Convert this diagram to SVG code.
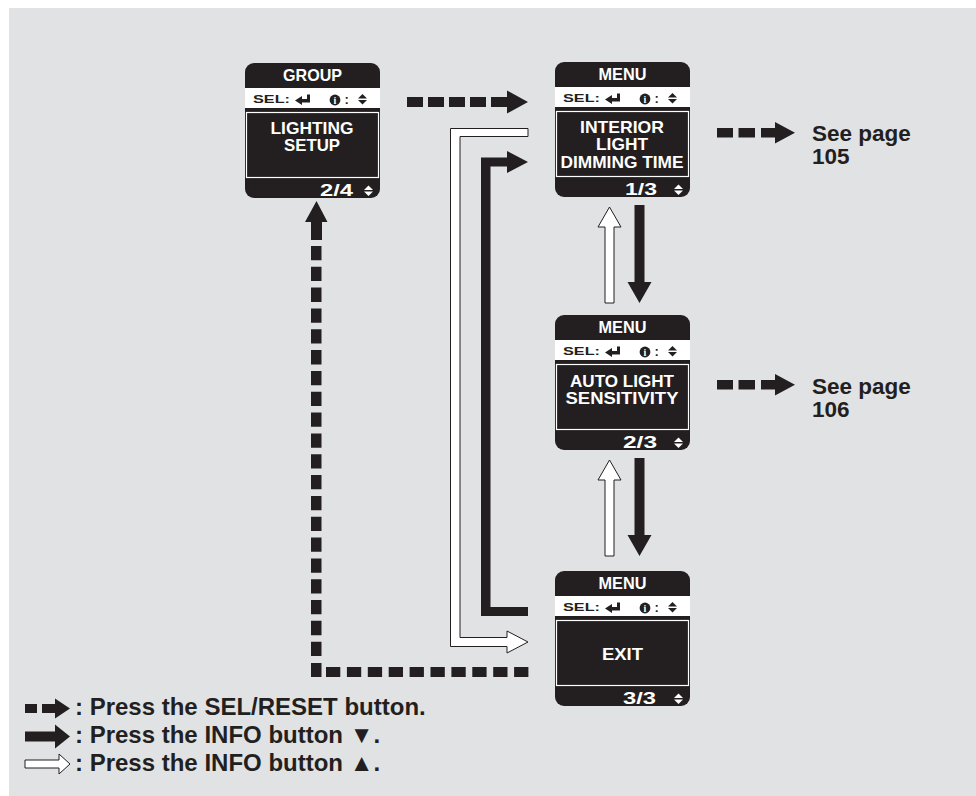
<svg xmlns="http://www.w3.org/2000/svg" xmlns:xlink="http://www.w3.org/1999/xlink" width="976" height="796" viewBox="0 0 976 796">
<style>
.bg{fill:#e1e2e4}
.ink{fill:#231f20}
.wh{fill:#fff}
.hollow{fill:#fff;stroke:#231f20;stroke-width:1}
.lt{font-family:"Liberation Sans",Arial,sans-serif;font-size:16.5px;font-weight:bold;fill:#fff;text-anchor:middle}
.num{font-family:"Liberation Sans",Arial,sans-serif;font-size:16.5px;font-weight:bold;fill:#fff;text-anchor:end}
.sel{font-family:"Liberation Sans",Arial,sans-serif;font-size:11.5px;font-weight:bold;fill:#231f20}
.info{font-family:"Liberation Serif","Times New Roman",serif;font-size:10px;font-weight:bold;fill:#fff;text-anchor:middle}
.lbl{font-family:"Liberation Sans",Arial,sans-serif;font-size:22.5px;font-weight:bold;fill:#231f20}
.leg{font-family:"Liberation Sans",Arial,sans-serif;font-size:24px;font-weight:bold;fill:#231f20}
</style>
<defs>
<g id="frame">
<rect width="135" height="135" rx="9" class="ink"/>
<rect y="25" width="135" height="20" class="wh"/>
<rect x="1.5" y="49.5" width="132" height="65" fill="none" stroke="#fff" stroke-width="1.2"/>
<text x="8" y="40" class="sel" textLength="37" lengthAdjust="spacingAndGlyphs">SEL:</text>
<polygon class="ink" points="50,37.5 57,33 57,36 62,36 62,31.5 65,31.5 65,39.5 57,39.5 57,42"/>
<circle cx="90" cy="37" r="5.4" class="ink"/>
<text x="90" y="40.6" class="info">i</text>
<text x="99.5" y="40.5" class="sel" style="font-size:13px">:</text>
<polygon class="ink" points="117.5,31 122,35.5 113,35.5"/>
<polygon class="ink" points="113,37 122,37 117.5,41.5"/>
<polygon class="wh" points="123.5,122.5 128,127 119,127"/>
<polygon class="wh" points="119,128.5 128,128.5 123.5,133"/>
</g>
</defs>

<rect x="9" y="8" width="967" height="788" class="bg"/>

<g id="node-group" transform="translate(245,63)">
<use xlink:href="#frame" href="#frame"/>
<text x="67.5" y="17.5" class="lt" textLength="59" lengthAdjust="spacingAndGlyphs">GROUP</text>
<text x="67" y="70.5" class="lt" textLength="83" lengthAdjust="spacingAndGlyphs">LIGHTING</text>
<text x="67" y="88" class="lt" textLength="56" lengthAdjust="spacingAndGlyphs">SETUP</text>
<text x="108" y="132.5" class="num" textLength="33" lengthAdjust="spacingAndGlyphs">2/4</text>
</g>

<g id="node-menu1" transform="translate(555,62)">
<use xlink:href="#frame" href="#frame"/>
<text x="67.5" y="17.5" class="lt" textLength="48" lengthAdjust="spacingAndGlyphs">MENU</text>
<text x="67" y="70.5" class="lt" textLength="84" lengthAdjust="spacingAndGlyphs">INTERIOR</text>
<text x="67" y="88" class="lt" textLength="52" lengthAdjust="spacingAndGlyphs">LIGHT</text>
<text x="67" y="105.5" class="lt" textLength="123" lengthAdjust="spacingAndGlyphs">DIMMING TIME</text>
<text x="102" y="133" class="num" textLength="32" lengthAdjust="spacingAndGlyphs">1/3</text>
</g>

<g id="node-menu2" transform="translate(555,315)">
<use xlink:href="#frame" href="#frame"/>
<text x="67.5" y="17.5" class="lt" textLength="48" lengthAdjust="spacingAndGlyphs">MENU</text>
<text x="67" y="71.5" class="lt" textLength="104" lengthAdjust="spacingAndGlyphs">AUTO LIGHT</text>
<text x="67" y="89" class="lt" textLength="113" lengthAdjust="spacingAndGlyphs">SENSITIVITY</text>
<text x="102" y="133" class="num" textLength="34" lengthAdjust="spacingAndGlyphs">2/3</text>
</g>

<g id="node-menu3" transform="translate(555,571)">
<use xlink:href="#frame" href="#frame"/>
<text x="67.5" y="17.5" class="lt" textLength="48" lengthAdjust="spacingAndGlyphs">MENU</text>
<text x="67.5" y="89" class="lt" textLength="41" lengthAdjust="spacingAndGlyphs">EXIT</text>
<text x="101" y="133" class="num" textLength="33" lengthAdjust="spacingAndGlyphs">3/3</text>
</g>

<g id="connectors">
<g class="ink">
<rect x="407" y="97" width="16" height="10"/>
<rect x="428" y="97" width="16" height="10"/>
<rect x="449" y="97" width="16" height="10"/>
<rect x="470" y="97" width="16" height="10"/>
<polygon points="491,97 507,97 507,90.5 528,102 507,113.5 507,107 491,107"/>
</g>
<polygon class="ink" points="528,616 481,616 481,157.5 507,157.5 507,151 528,162 507,173 507,166.5 490.5,166.5 490.5,607 528,607"/>
<polygon class="hollow" points="528,128.5 450.5,128.5 450.5,646.5 507,646.5 507,653 528,642 507,631 507,637.5 460,637.5 460,136.5 528,136.5"/>
<polygon class="hollow" points="609.5,207 621,227 614,227 614,303 605,303 605,227 598,227"/>
<polygon class="ink" points="634.5,205 644.5,205 644.5,282 651.5,282 639.5,303 627.5,282 634.5,282"/>
<polygon class="hollow" points="609.5,460 621,480 614,480 614,556 605,556 605,480 598,480"/>
<polygon class="ink" points="634.5,458 644.5,458 644.5,535 651.5,535 639.5,556 627.5,535 634.5,535"/>
<line x1="528.4" y1="672" x2="326" y2="672" stroke="#231f20" stroke-width="10" stroke-dasharray="14.3 6.6"/>
<rect x="311" y="663" width="10.5" height="14" class="ink"/>
<line x1="316.25" y1="656" x2="316.25" y2="246" stroke="#231f20" stroke-width="10.5" stroke-dasharray="14.3 6.53"/>
<polygon class="ink" points="316.5,201 327.5,222 322,222 322,240 311,240 311,222 305,222"/>
<g class="ink">
<rect x="717" y="128" width="16" height="9.5"/>
<rect x="738.5" y="128" width="16.5" height="9.5"/>
<polygon points="761,128 775,128 775,122 795,132.75 775,143.5 775,137.5 761,137.5"/>
<rect x="717" y="380" width="16" height="9.5"/>
<rect x="738.5" y="380" width="16.5" height="9.5"/>
<polygon points="761,380 775,380 775,374 795,384.75 775,395.5 775,389.5 761,389.5"/>
</g>
</g>

<g id="ref-105">
<text class="lbl"><tspan x="812" y="141">See page</tspan><tspan x="812" y="164">105</tspan></text>
</g>
<g id="ref-106">
<text class="lbl"><tspan x="812" y="394">See page</tspan><tspan x="812" y="417">106</tspan></text>
</g>

<g id="legend">
<rect x="25" y="704" width="12" height="9" class="ink"/>
<polygon class="ink" points="42,704 55,704 55,698.5 70,708.5 55,718.5 55,713 42,713"/>
<text x="75" y="715" class="leg">: Press the SEL/RESET button.</text>
<polygon class="ink" points="25,731.5 55,731.5 55,724.5 70,736.5 55,748.5 55,741.5 25,741.5"/>
<text x="75" y="743" class="leg">: Press the INFO button ▼.</text>
<polygon class="hollow" points="25,760 59,760 59,754 70,764 59,774 59,768 25,768"/>
<text x="75" y="771" class="leg">: Press the INFO button ▲.</text>
</g>
</svg>
